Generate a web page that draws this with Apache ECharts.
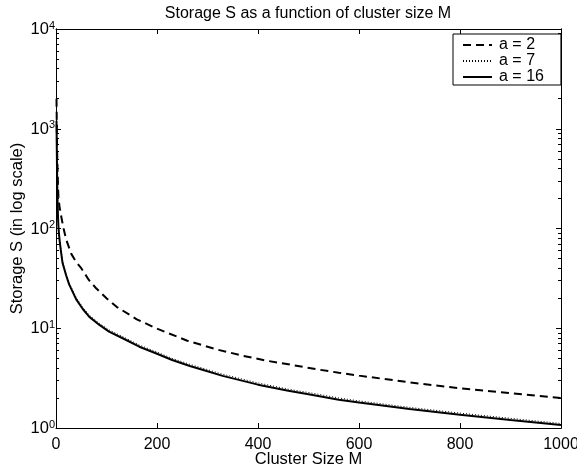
<!DOCTYPE html>
<html><head><meta charset="utf-8">
<script src="https://cdn.jsdelivr.net/npm/echarts@6/dist/echarts.min.js"></script>
<style>html,body{margin:0;padding:0;background:#fff}#c{width:577px;height:469px}</style>
</head><body><div id="c"></div>
<script>
var titleText = "Storage S as a function of cluster size M";
var xName = "Cluster Size M";
var yName = "Storage S (in log scale)";
var seriesNames = ["a = 2", "a = 7", "a = 16"];
var xTicks = [0, 200, 400, 600, 800, 1000];
var yMajor = [1, 10, 100, 1000, 10000];
var yMinor = [2,3,4,5,6,7,8,9,20,30,40,50,60,70,80,90,200,300,400,500,600,700,800,900,2000,3000,4000,5000,6000,7000,8000,9000];

// a = 2 (dashed)
var mA2 = [1,2,3,4,5,7,10,15,20,30,40,50,65,80,100,120,160,200,260,320,370,420,460,520,560,600,700,800,900,1000];
var sA2 = [2000,700,400,260,200,165,135,100,78,56,46,40,30.5,25,20,16.4,12.3,9.9,7.5,6.1,5.3,4.7,4.35,3.85,3.58,3.35,2.87,2.5,2.23,2.0];
// a = 7 (dotted) and a = 16 (solid)
var mA16 = [1,2,3,4,5,7,10,13,20,26,40,53,66,86,105,132,165,200,230,265,300,330,400,460,500,560,600,700,800,900,1000];
var sA7 = [1250,415,198,135,104,80,60.3,46.8,35.4,28.6,20.3,16.2,13.5,11.2,9.62,8.26,6.79,5.77,4.99,4.35,3.85,3.46,2.83,2.45,2.27,2.0,1.87,1.61,1.41,1.25,1.11];
var sA16 = [1200,400,190,130,100,77,58,45,34,27.5,19.5,15.6,13,10.8,9.25,7.94,6.53,5.55,4.8,4.18,3.7,3.33,2.72,2.36,2.18,1.92,1.8,1.55,1.36,1.2,1.07];

function pairs(ms, v){ return ms.map(function(m,i){ return [m, v[i]]; }); }
var FONT = "Liberation Sans, Arial, Helvetica, sans-serif";
var chart = echarts.init(document.getElementById('c'), null, {renderer:'canvas'});

function yAxisDef(pos, ticks, len, labels){
  return {
    type:'log', logBase:10, min:1, max:10000, position:pos, offset:0,
    axisLine:{show:true, lineStyle:{color:'#000', width:1}},
    axisTick:{show:true, inside:true, length:len, customValues:ticks, lineStyle:{color:'#000'}},
    axisLabel:{show:labels, margin:1, fontFamily:FONT, color:'#000',
      formatter:function(v){ var e=Math.round(Math.log10(v)); return '{b|10}{s|'+e+'}'; },
      rich:{b:{fontSize:16.5, fontFamily:FONT, color:'#000', verticalAlign:'bottom', lineHeight:18},
            s:{fontSize:11, fontFamily:FONT, color:'#000', verticalAlign:'top', lineHeight:11}}},
    splitLine:{show:false}, minorTick:{show:false}
  };
}

var option = {
  animation:false,
  backgroundColor:'#fff',
  title:{text:titleText, left:303, textAlign:'center', top:1,
    textStyle:{fontFamily:FONT, fontSize:16, fontWeight:'normal', color:'#000'}},
  grid:{left:56, right:16, top:29, bottom:41, containLabel:false, outerBoundsMode:'none'},
  legend:{
    orient:'vertical', left:453, top:34,
    padding:[3,17,0,9], itemGap:0, itemWidth:29, itemHeight:14,
    borderColor:'#000', borderWidth:1, backgroundColor:'#fff', borderRadius:0,
    itemStyle:{opacity:0},
    textStyle:{fontFamily:FONT, fontSize:16, color:'#000', lineHeight:15, padding:[0,0,0,2]},
    data:seriesNames
  },
  xAxis:[{
    type:'value', min:0, max:1000, interval:200, position:'bottom', offset:0,
    name:xName, nameLocation:'middle', nameGap:23, nameMoveOverlap:false,
    nameTextStyle:{fontFamily:FONT, fontSize:16.5, color:'#000'},
    axisLine:{show:true, onZero:false, lineStyle:{color:'#000'}},
    axisTick:{show:true, inside:true, length:5, lineStyle:{color:'#000'}},
    axisLabel:{fontFamily:FONT, fontSize:16, color:'#000', margin:9, showMaxLabel:true,
      formatter:function(v){ return String(v); }},
    splitLine:{show:false}
  },{
    type:'value', min:0, max:1000, interval:200, position:'top', offset:0,
    axisLine:{show:true, onZero:false, lineStyle:{color:'#000'}},
    axisTick:{show:true, inside:true, length:5, lineStyle:{color:'#000'}},
    axisLabel:{show:false}, splitLine:{show:false}
  }],
  yAxis:[
    Object.assign(yAxisDef('left', yMajor, 5, true), {
      name:yName, nameLocation:'middle', nameGap:30, nameRotate:90, nameMoveOverlap:false,
      nameTextStyle:{fontFamily:FONT, fontSize:16.5, color:'#000'}}),
    yAxisDef('left', yMinor, 3, false),
    yAxisDef('right', yMajor, 5, false),
    yAxisDef('right', yMinor, 3, false)
  ],
  series:[
    {name:seriesNames[0], type:'line', xAxisIndex:0, yAxisIndex:0, data:pairs(mA2, sA2), showSymbol:false, symbol:'none',
      lineStyle:{color:'#000', width:2, type:[8,5]}, itemStyle:{color:'#000'}},
    {name:seriesNames[1], type:'line', xAxisIndex:0, yAxisIndex:0, data:pairs(mA16, sA7), showSymbol:false, symbol:'none',
      lineStyle:{color:'#000', width:1, type:[1,2]}, itemStyle:{color:'#000'}},
    {name:seriesNames[2], type:'line', xAxisIndex:0, yAxisIndex:0, data:pairs(mA16, sA16), showSymbol:false, symbol:'none',
      lineStyle:{color:'#000', width:2, type:'solid'}, itemStyle:{color:'#000'}}
  ]
};
chart.setOption(option);
</script></body></html>
